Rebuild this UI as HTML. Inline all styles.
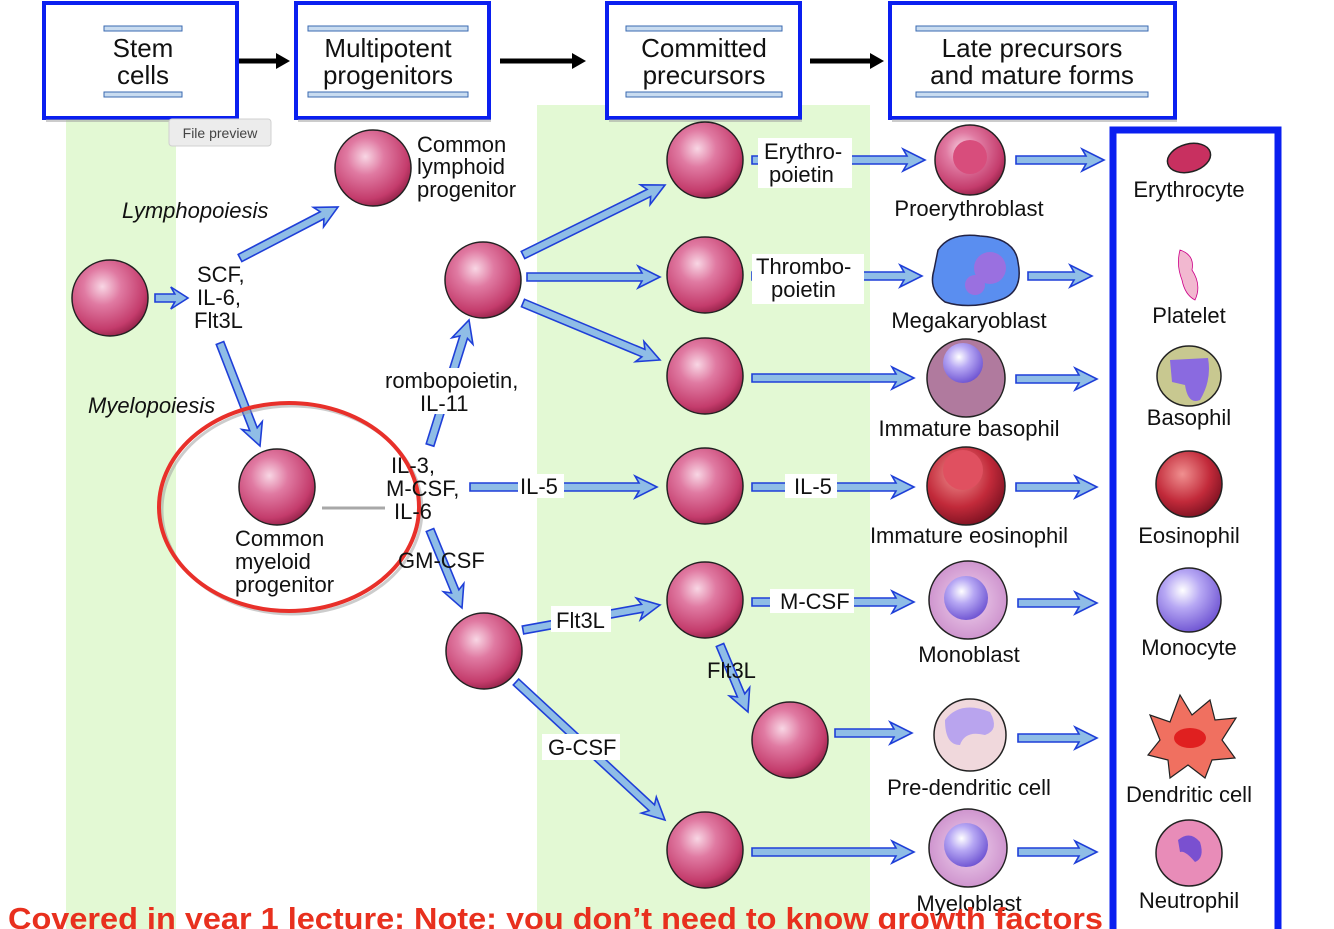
<!DOCTYPE html>
<html><head><meta charset="utf-8"><style>
html,body{margin:0;padding:0;background:#fff;width:1334px;height:929px;overflow:hidden}
svg text{font-family:"Liberation Sans",sans-serif;fill:#111}
</style></head><body>
<svg id="s" width="1334" height="929" viewBox="0 0 1334 929" xmlns="http://www.w3.org/2000/svg">
<defs>
<radialGradient id="pk" cx="0.4" cy="0.35" r="0.7">
<stop offset="0" stop-color="#f8d6e4"/><stop offset="0.35" stop-color="#e07aa2"/><stop offset="0.8" stop-color="#c43c6c"/><stop offset="1" stop-color="#8f1f45"/></radialGradient>
<radialGradient id="pu" cx="0.4" cy="0.35" r="0.7"><stop offset="0" stop-color="#fff"/><stop offset="0.4" stop-color="#b7a8f4"/><stop offset="1" stop-color="#6a4fd0"/></radialGradient>
<radialGradient id="lv" cx="0.5" cy="0.5" r="0.6"><stop offset="0" stop-color="#f0d4ee"/><stop offset="1" stop-color="#c888c8"/></radialGradient>
<radialGradient id="rd" cx="0.4" cy="0.35" r="0.7"><stop offset="0" stop-color="#f09090"/><stop offset="0.6" stop-color="#c22a3a"/><stop offset="1" stop-color="#7a1020"/></radialGradient>
</defs>
<rect x="66" y="105" width="110" height="824" fill="#e3f9d4"/>
<rect x="537" y="105" width="333" height="824" fill="#e3f9d4"/>
<rect x="322" y="345" width="63" height="165" fill="#fff"/>
<g id="hdr"></g>
<g id="arr"></g>
<g id="cells"></g>
<line x1="322" y1="508" x2="385" y2="508" stroke="#a8a8a8" stroke-width="3"/>
<ellipse cx="292" cy="510" rx="130" ry="104" fill="none" stroke="#999" stroke-width="3" opacity="0.5"/>
<ellipse cx="289" cy="507" rx="130" ry="104" fill="none" stroke="#e8302a" stroke-width="4"/>
<rect x="1113" y="130" width="165" height="805" fill="none" stroke="#0a1ff0" stroke-width="7"/>
<rect x="169" y="119" width="102" height="27" rx="3" fill="#ececec" stroke="#d0d0d0"/>
<text x="220" y="138" font-size="14" text-anchor="middle" fill="#444" style="fill:#444">File preview</text>
<g id="lbl" font-size="22"></g>
<text x="8" y="929" font-size="31" font-weight="bold" textLength="1095" lengthAdjust="spacingAndGlyphs" style="fill:#e8301e">Covered in year 1 lecture: Note: you don’t need to know growth factors</text>
</svg>
<script>
var NS="http://www.w3.org/2000/svg";
function el(p,t,a,txt){var e=document.createElementNS(NS,t);for(var k in a)e.setAttribute(k,a[k]);if(txt!=null)e.textContent=txt;document.getElementById(p).appendChild(e);return e;}
// headers
[[42,239,["Stem","cells"],104,182],[294,491,["Multipotent","progenitors"],308,468],[605,802,["Committed","precursors"],626,782],[888,1177,["Late precursors","and mature forms"],916,1148]].forEach(function(h){
el("hdr","rect",{x:h[0]+2,y:3,width:h[1]-h[0]-4,height:115,fill:"#fff",stroke:"#0a1ff0","stroke-width":4});
el("hdr","rect",{x:h[0]+4,y:119,width:h[1]-h[0]-4,height:3,fill:"#999",opacity:0.5});
el("hdr","rect",{x:h[3],y:26,width:h[4]-h[3],height:5,fill:"#c9dcf0",stroke:"#3a6ab0","stroke-width":1});
el("hdr","rect",{x:h[3],y:92,width:h[4]-h[3],height:5,fill:"#c9dcf0",stroke:"#3a6ab0","stroke-width":1});
var cx=(h[3]+h[4])/2;
el("hdr","text",{x:cx,y:57,"font-size":26,"text-anchor":"middle"},h[2][0]);
el("hdr","text",{x:cx,y:84,"font-size":26,"text-anchor":"middle"},h[2][1]);
});
[[239,290],[500,586],[810,884]].forEach(function(a){
el("hdr","line",{x1:a[0],y1:61,x2:a[1]-12,y2:61,stroke:"#000","stroke-width":5});
el("hdr","polygon",{points:(a[1]-14)+",53 "+a[1]+",61 "+(a[1]-14)+",69",fill:"#000"});
});
// arrows
function arrow(x1,y1,x2,y2){var dx=x2-x1,dy=y2-y1,L=Math.hypot(dx,dy),a=Math.atan2(dy,dx)*180/Math.PI;
var hl=Math.min(18,L*0.4),w=4,hw=11;
var p=[[0,-w],[L-hl,-w],[L-hl-4,-hw],[L,0],[L-hl-4,hw],[L-hl,w],[0,w]].map(function(q){return q[0]+","+q[1]}).join(" ");
el("arr","polygon",{points:p,fill:"#8fbde6",stroke:"#1f3fd8","stroke-width":1.6,transform:"translate("+x1+","+y1+") rotate("+a+")"});}
[[155,298,188,298],[240,258,338,207],[220,343,260,446],[430,445,469,320],[430,530,462,608],[470,487,657,487],
[523,255,665,185],[527,277,660,277],[523,303,660,360],[523,630,660,605],[516,682,665,820],[720,645,748,712],
[752,160,925,160],[752,276,922,276],[752,378,914,378],[752,487,914,487],[752,602,914,602],[835,733,912,733],[752,852,914,852],
[1016,160,1104,160],[1028,276,1092,276],[1016,379,1097,379],[1016,487,1097,487],[1018,603,1097,603],[1018,738,1097,738],[1018,852,1097,852]
].forEach(function(a){arrow(a[0],a[1],a[2],a[3]);});
// cells
function cell(x,y,r,f){el("cells","circle",{cx:x,cy:y,r:r,fill:f||"url(#pk)",stroke:"#222","stroke-width":1.5});}
[[110,298],[373,168],[277,487],[483,280],[484,651],[705,160],[705,275],[705,376],[705,486],[705,600],[790,740],[705,850]].forEach(function(c){cell(c[0],c[1],38);});
// late precursors
cell(970,160,35);el("cells","circle",{cx:970,cy:157,r:17,fill:"#d84d7c"});
el("cells","path",{d:"M938 250 Q950 232 980 236 Q1015 238 1018 262 Q1024 292 1000 300 Q970 310 945 302 Q928 290 934 270Z",fill:"#5a8ef0",stroke:"#224","stroke-width":1.5});
el("cells","circle",{cx:990,cy:268,r:16,fill:"#9a70e0"});el("cells","circle",{cx:975,cy:285,r:10,fill:"#9a70e0"});
cell(966,378,39,"#b07a9e");el("cells","circle",{cx:963,cy:363,r:20,fill:"url(#pu)"});
cell(966,486,39,"url(#rd)");el("cells","circle",{cx:963,cy:470,r:20,fill:"#e05060"});
cell(968,600,39,"url(#lv)");el("cells","circle",{cx:966,cy:598,r:22,fill:"url(#pu)"});
cell(970,735,36,"#f0d8dc");el("cells","path",{d:"M945 720 Q960 700 990 712 Q1000 730 985 735 Q965 730 960 745 Q945 745 945 720Z",fill:"#b9a4ee"});
cell(968,848,39,"url(#lv)");el("cells","circle",{cx:966,cy:845,r:22,fill:"url(#pu)"});
// mature
el("cells","ellipse",{cx:1189,cy:158,rx:22,ry:14,fill:"#c83060",stroke:"#222","stroke-width":1.5,transform:"rotate(-15 1189 158)"});
el("cells","path",{d:"M1180 250 Q1195 255 1192 270 Q1202 285 1195 300 Q1185 295 1182 280 Q1176 265 1180 250Z",fill:"#f2b8d0",stroke:"#c08","stroke-width":0.8});
el("cells","ellipse",{cx:1189,cy:376,rx:32,ry:30,fill:"#c8c890",stroke:"#222","stroke-width":1.5});
el("cells","path",{d:"M1170 360 L1208 358 Q1212 380 1200 400 Q1188 405 1185 385 L1172 382Z",fill:"#8a6ae0"});
cell(1189,484,33,"url(#rd)");
cell(1189,600,32,"url(#pu)");
el("cells","path",{d:"M1160 740 L1150 715 L1170 722 L1180 695 L1192 715 L1210 700 L1215 720 L1236 718 L1222 740 L1235 758 L1212 760 L1205 778 L1188 765 L1170 778 L1168 760 L1148 755Z",fill:"#f07060",stroke:"#222","stroke-width":1.2});
el("cells","ellipse",{cx:1190,cy:738,rx:16,ry:10,fill:"#e02020"});
cell(1189,853,33,"#e88cb8");el("cells","path",{d:"M1178 840 Q1190 830 1200 842 Q1205 858 1195 862 Q1185 850 1180 852Z",fill:"#7a50d0"});
// labels
function T(x,y,s,o){var a={x:x,y:y};for(var k in o)a[k]=o[k];return el("lbl","text",a,s);}
function B(x,y,w,h){el("lbl","rect",{x:x,y:y,width:w,height:h,fill:"#fff"});}
T(417,152,"Common");T(417,174,"lymphoid");T(417,197,"progenitor");
T(122,218,"Lymphopoiesis",{"font-style":"italic"});
T(88,413,"Myelopoiesis",{"font-style":"italic"});
T(197,282,"SCF,");T(197,305,"IL-6,");T(194,328,"Flt3L");
T(235,546,"Common");T(235,569,"myeloid");T(235,592,"progenitor");
B(384,368,152,46);T(385,388,"rombopoietin,");T(420,411,"IL-11");
T(391,473,"IL-3,");T(386,496,"M-CSF,");T(394,519,"IL-6");
T(398,568,"GM-CSF");
B(518,474,46,24);T(520,494,"IL-5");
B(758,138,94,50);T(764,159,"Erythro-");T(769,182,"poietin");
B(752,254,112,50);T(756,274,"Thrombo-");T(771,297,"poietin");
B(785,474,52,24);T(794,494,"IL-5");
B(770,589,84,24);T(780,609,"M-CSF");
B(551,606,60,26);T(556,628,"Flt3L");
T(707,678,"Flt3L");
B(542,734,78,26);T(548,755,"G-CSF");
var C={"text-anchor":"middle"};
T(969,216,"Proerythroblast",C);T(969,328,"Megakaryoblast",C);T(969,436,"Immature basophil",C);
T(969,543,"Immature eosinophil",C);T(969,662,"Monoblast",C);T(969,795,"Pre-dendritic cell",C);T(969,911,"Myeloblast",C);
T(1189,197,"Erythrocyte",C);T(1189,323,"Platelet",C);T(1189,425,"Basophil",C);T(1189,543,"Eosinophil",C);
T(1189,655,"Monocyte",C);T(1189,802,"Dendritic cell",C);T(1189,908,"Neutrophil",C);
</script>
</body></html>
